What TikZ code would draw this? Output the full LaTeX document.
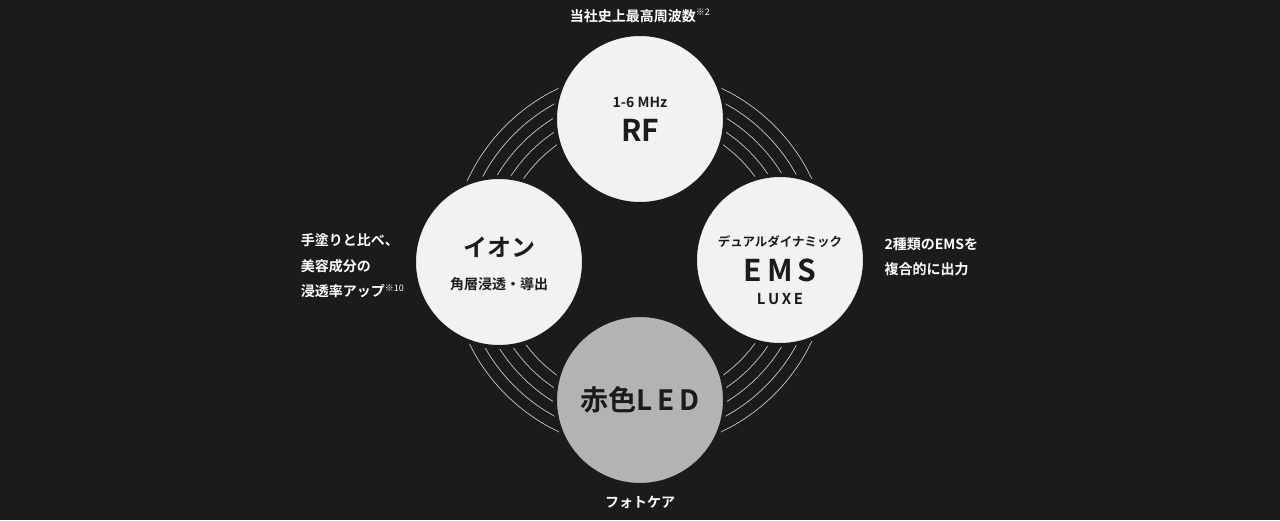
\documentclass[tikz,border=0pt]{standalone}
\usepackage{fontspec}
\setmainfont{Noto Sans CJK JP}[BoldFont={Noto Sans CJK JP Bold}]
\usetikzlibrary{positioning}
\definecolor{bgdark}{HTML}{1B1B1B}
\definecolor{disc}{HTML}{F2F2F2}
\definecolor{discled}{HTML}{B3B3B3}
\definecolor{ringgray}{HTML}{C8C8C8}
\tikzstyle{feature} = [circle, minimum size=170pt, inner sep=0pt, fill=disc, draw=bgdark, line width=4pt]
\tikzstyle{label} = [text=bgdark, inner sep=0pt, font=\bfseries]
\tikzstyle{note} = [text=white, align=left, font=\bfseries\fontsize{14}{25.5}\selectfont]
\tikzstyle{ring} = [ringgray, line width=0.7pt]
\begin{document}
\begin{tikzpicture}[x=1pt, y=-1pt]
  \fill[bgdark] (0,0) rectangle (1280,520);
  \useasboundingbox (0,0) rectangle (1280,520);
  \coordinate (hub) at (640,260);
  % rings behind the discs
  \foreach \r in {142,154,166,178,190}
    \draw[ring] (hub) circle (\r);
  \node (rf) [feature] at (640,119) {};
  \node (ion) [feature] at (499,262) {};
  \node (ems) [feature] at (780,260) {};
  \node (led) [feature, fill=discled] at (640,400) {};

  \node (rfsub) [label, font=\bfseries\fontsize{14}{16}\selectfont] at ([yshift=17pt]rf.center) {1-6 MHz};
  \node (rfmain) [label, font=\bfseries\fontsize{30}{32}\selectfont] at ([yshift=-11pt]rf.center) {RF};
  \node (ionmain) [label, font=\bfseries\fontsize{24}{26}\selectfont] at ([yshift=15pt]ion.center) {イオン};
  \node (ionsub) [label, font=\bfseries\fontsize{14}{16}\selectfont] at ([yshift=-22pt]ion.center) {角層浸透・導出};
  \node (emstop) [label, font=\bfseries\fontsize{12.5}{14}\selectfont] at ([yshift=18pt]ems.center) {デュアルダイナミック};
  \node (emsmain) [label, font=\bfseries\fontsize{30}{32}\selectfont] at ([yshift=-10pt]ems.center) {E\,M\,S};
  \node (emssub) [label, font=\bfseries\fontsize{15}{17}\selectfont] at ([yshift=-39pt]ems.center) {L\,U\,X\,E};
  \node (ledmain) [label, font=\bfseries\fontsize{28}{30}\selectfont] at (led.center) {赤色L\,E\,D};

  \node (rfnote) [note, above=6pt of rf] {当社史上最高周波数\textsuperscript{\normalfont\fontsize{9}{9}\selectfont ※2}};
  \node (ionnote) [note, anchor=east] at ([xshift=-4pt,yshift=-4pt]ion.west) {手塗りと比べ、\\美容成分の\\浸透率アップ\textsuperscript{\normalfont\fontsize{9}{9}\selectfont ※10}};
  \node (emsnote) [note, anchor=west] at ([xshift=14pt,yshift=3pt]ems.east) {2種類のEMSを\\複合的に出力};
  \node (lednote) [note, below=6pt of led] {フォトケア};
\end{tikzpicture}
\end{document}
